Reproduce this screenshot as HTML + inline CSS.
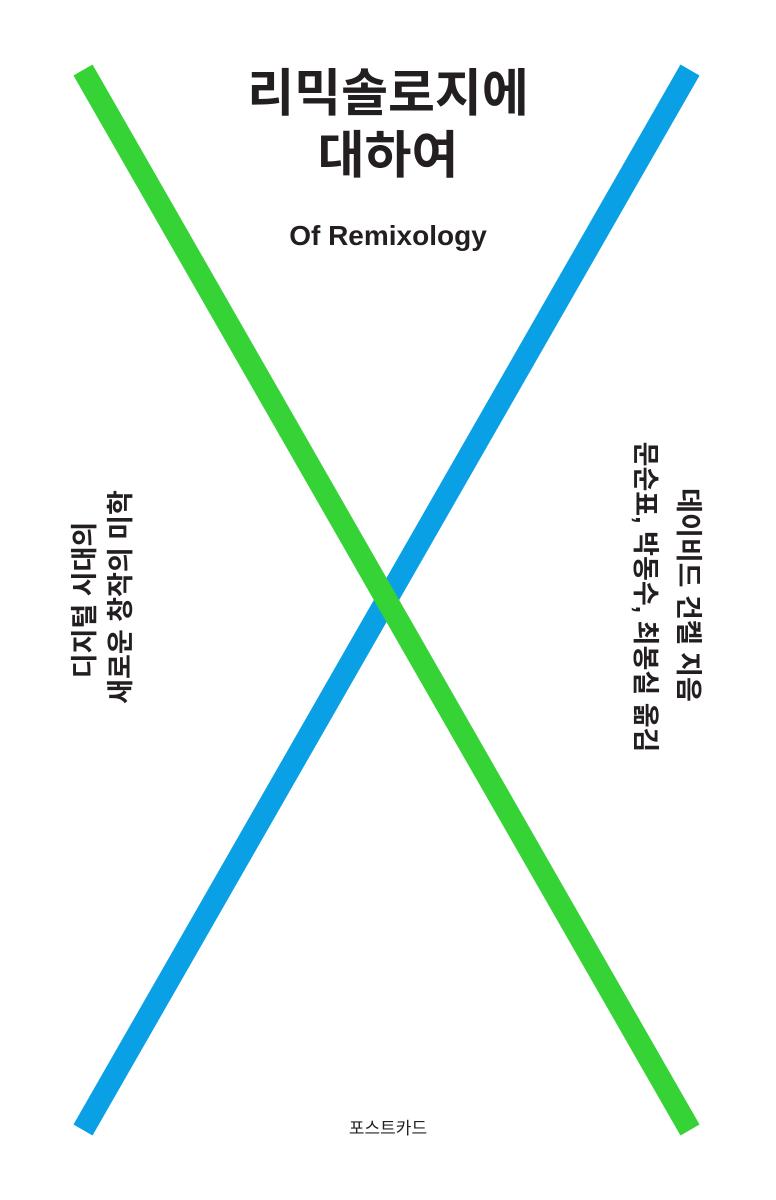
<!DOCTYPE html>
<html><head><meta charset="utf-8"><style>
body{margin:0;width:776px;height:1200px;background:#fff;position:relative;overflow:hidden;font-family:"Liberation Sans","Noto Sans CJK KR",sans-serif;color:#231f20}
.t{position:absolute;left:0;width:776px;text-align:center;font-weight:bold}
.v{position:absolute;white-space:nowrap;font-weight:bold;font-size:27px;line-height:38px}
</style></head><body>
<svg width="776" height="1200" style="position:absolute;left:0;top:0">
<line x1="690" y1="70" x2="83" y2="1130" stroke="#0aa0e6" stroke-width="22"/>
<line x1="83" y1="70" x2="690" y2="1130" stroke="#35d335" stroke-width="22"/>
</svg>
<div class="t" style="top:63px;font-size:51px;line-height:62px">리믹솔로지에<br>대하여</div>
<div class="t" style="top:220px;font-size:28px">Of Remixology</div>
<div class="t" style="top:1114px;font-size:17px;font-weight:normal">포스트카드</div>
<div class="v" style="left:85px;top:600px;transform:translate(-50%,-50%) rotate(-90deg)">디지털 시대의</div>
<div class="v" style="left:121px;top:597px;transform:translate(-50%,-50%) rotate(-90deg)">새로운 창작의 미학</div>
<div class="v" style="left:688px;top:595px;transform:translate(-50%,-50%) rotate(90deg)">데이비드 건켈 지음</div>
<div class="v" style="left:645px;top:597px;transform:translate(-50%,-50%) rotate(90deg)">문순표, 박동수, 최봉실 옮김</div>
</body></html>
